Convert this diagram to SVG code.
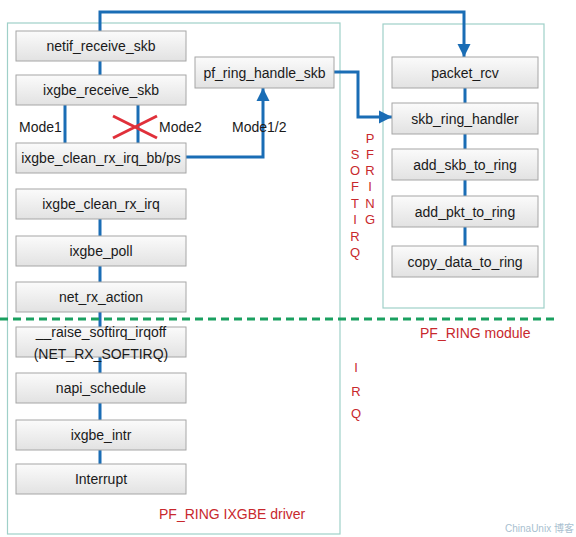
<svg xmlns="http://www.w3.org/2000/svg" width="576" height="537" viewBox="0 0 576 537">
<defs>
<linearGradient id="g" x1="0" y1="0" x2="0" y2="1">
<stop offset="0" stop-color="#fbfbfb"/>
<stop offset="1" stop-color="#e2e2e2"/>
</linearGradient>
<marker id="arr" markerUnits="userSpaceOnUse" markerWidth="14" markerHeight="14" viewBox="0 0 14 14" refX="13" refY="7" orient="auto">
<path d="M0,0.5 L13,7 L0,13.5 Z" fill="#1a6db5"/>
</marker>
<style>
.box{fill:url(#g);stroke:#a6a6a6;stroke-width:1}
.t{font-family:"Liberation Sans",Arial,sans-serif;font-size:14px;fill:#1a1a1a;text-anchor:middle;dominant-baseline:central}
.lbl{font-family:"Liberation Sans",Arial,sans-serif;font-size:14px;fill:#1a1a1a;dominant-baseline:central}
.red{font-family:"Liberation Sans",Arial,sans-serif;font-size:14px;fill:#c8282d;dominant-baseline:central}
.vl{font-family:"Liberation Sans",Arial,sans-serif;font-size:13px;fill:#c8282d;text-anchor:middle;dominant-baseline:central}
.c{fill:none;stroke:#1a6db5;stroke-width:3}
.frame{fill:none;stroke:#9fd0c8;stroke-width:1.2}
</style>
</defs>
<rect width="576" height="537" fill="#ffffff"/>
<g id="frames">
<rect class="frame" x="7.5" y="23" width="332.5" height="511"/>
<rect class="frame" x="383" y="24" width="161" height="284"/>
</g>
<g id="connectors">
<path class="c" d="M100,31 V12 H464 V57" marker-end="url(#arr)"/>
<path class="c" d="M100,61 V75"/>
<path class="c" d="M65,105 V143"/>
<path class="c" d="M138,105 V143"/>
<path class="c" d="M186,157 H263 V88" marker-end="url(#arr)"/>
<path class="c" d="M334,72 H358 V117 H392" marker-end="url(#arr)"/>
<path class="c" d="M100,219 V236 M100,266 V282 M100,312 V327 M100,357 V373 M100,403 V420 M100,450 V464"/>
<path class="c" d="M465,88 V103 M465,134 V149 M465,180 V196 M465,227 V246"/>
</g>
<g id="cross">
<path d="M113,116 L157,138 M113,138 L157,116" stroke="#e0303a" stroke-width="3" fill="none"/>
</g>
<g id="netif_receive_skb"><rect class="box" x="16" y="31" width="170" height="30"/><text class="t" x="101" y="46">netif_receive_skb</text></g>
<g id="ixgbe_receive_skb"><rect class="box" x="16" y="75" width="170" height="30"/><text class="t" x="101" y="90">ixgbe_receive_skb</text></g>
<g id="ixgbe_clean_rx_irq_bb_ps"><rect class="box" x="16" y="143" width="170" height="30"/><text class="t" x="101" y="158">ixgbe_clean_rx_irq_bb/ps</text></g>
<g id="ixgbe_clean_rx_irq"><rect class="box" x="16" y="189" width="170" height="30"/><text class="t" x="101" y="204">ixgbe_clean_rx_irq</text></g>
<g id="ixgbe_poll"><rect class="box" x="16" y="236" width="170" height="30"/><text class="t" x="101" y="251">ixgbe_poll</text></g>
<g id="net_rx_action"><rect class="box" x="16" y="282" width="170" height="30"/><text class="t" x="101" y="297">net_rx_action</text></g>
<g id="raise_softirq_irqoff"><rect class="box" x="16" y="327" width="170" height="30"/><text class="t" x="101" y="332">__raise_softirq_irqoff</text><text class="t" x="101" y="354">(NET_RX_SOFTIRQ)</text></g>
<g id="napi_schedule"><rect class="box" x="16" y="373" width="170" height="30"/><text class="t" x="101" y="388">napi_schedule</text></g>
<g id="ixgbe_intr"><rect class="box" x="16" y="420" width="170" height="30"/><text class="t" x="101" y="435">ixgbe_intr</text></g>
<g id="Interrupt"><rect class="box" x="16" y="464" width="170" height="30"/><text class="t" x="101" y="479">Interrupt</text></g>
<g id="pf_ring_handle_skb"><rect class="box" x="195" y="57" width="139" height="31"/><text class="t" x="264.5" y="72.5">pf_ring_handle_skb</text></g>
<g id="packet_rcv"><rect class="box" x="392" y="57" width="146" height="31"/><text class="t" x="465" y="72.5">packet_rcv</text></g>
<g id="skb_ring_handler"><rect class="box" x="392" y="103" width="146" height="31"/><text class="t" x="465" y="118.5">skb_ring_handler</text></g>
<g id="add_skb_to_ring"><rect class="box" x="392" y="149" width="146" height="31"/><text class="t" x="465" y="164.5">add_skb_to_ring</text></g>
<g id="add_pkt_to_ring"><rect class="box" x="392" y="196" width="146" height="31"/><text class="t" x="465" y="211.5">add_pkt_to_ring</text></g>
<g id="copy_data_to_ring"><rect class="box" x="392" y="246" width="146" height="31"/><text class="t" x="465" y="261.5">copy_data_to_ring</text></g>
<g id="labels">
<text class="lbl" x="19" y="127">Mode1</text>
<text class="lbl" x="159" y="127">Mode2</text>
<text class="lbl" x="232" y="127">Mode1/2</text>
<text class="red" x="159" y="514">PF_RING IXGBE driver</text>
<text class="red" x="420" y="333">PF_RING module</text>
<text class="vl" x="355" y="154">S</text><text class="vl" x="355" y="170">O</text><text class="vl" x="355" y="186.5">F</text><text class="vl" x="355" y="203">T</text><text class="vl" x="355" y="219.5">I</text><text class="vl" x="355" y="236">R</text><text class="vl" x="355" y="252">Q</text>
<text class="vl" x="370" y="138">P</text><text class="vl" x="370" y="154">F</text><text class="vl" x="370" y="170">R</text><text class="vl" x="370" y="186.5">I</text><text class="vl" x="370" y="203">N</text><text class="vl" x="370" y="219.5">G</text>
<text class="vl" x="356" y="367">I</text><text class="vl" x="356" y="391">R</text><text class="vl" x="356" y="413">Q</text>
</g>
<g id="divider">
<line x1="0" y1="319" x2="557" y2="319" stroke="#1aa060" stroke-width="3" stroke-dasharray="8 5"/>
</g>
<text x="505" y="532" font-family="Liberation Sans, 'Noto Sans CJK SC', sans-serif" font-size="10" fill="#a9bfd0">ChinaUnix 博客</text>
</svg>
